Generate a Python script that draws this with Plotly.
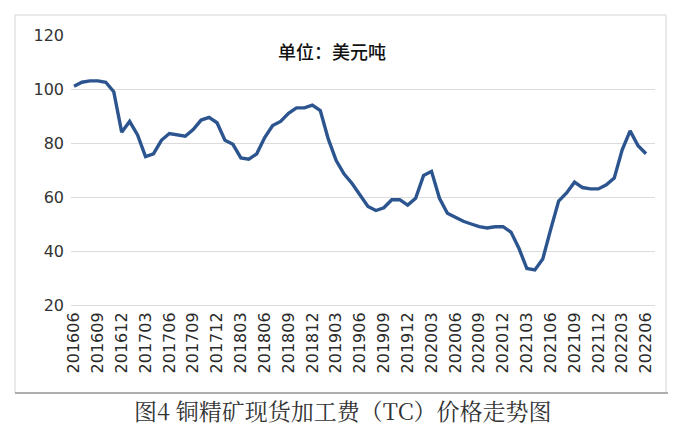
import plotly.graph_objects as go

months = []
for y in range(2016, 2023):
    for m in range(1, 13):
        ym = y * 100 + m
        if 201606 <= ym <= 202206:
            months.append(str(ym))

tc_values = [
    101, 102.5, 103, 103, 102.5, 99, 84, 88, 83, 75, 76, 81,
    83.5, 83, 82.5, 85, 88.5, 89.5, 87.5, 81, 79.5, 74.5, 74, 76,
    82, 86.5, 88, 91, 93, 93, 94, 92, 81.5, 73.5, 68.5, 65,
    61, 56.5, 55, 56, 59, 59, 57, 59.5, 68, 69.5, 59.5, 54,
    52.5, 51, 50, 49, 48.5, 49, 49, 47, 41, 33.5, 33, 37,
    48, 58.5, 61.5, 65.5, 63.5, 63, 63, 64.5, 67, 77.5, 84.5, 79,
    76,
]

tick_idx = list(range(0, len(months), 3))
tick_labels = [months[i] for i in tick_idx]
y_ticks = [20, 40, 60, 80, 100, 120]

unit_text = "单位：美元吨"
caption_text = "图4 铜精矿现货加工费（TC）价格走势图"

W, H = 692, 443
L, R, T, B = 71, 37, 35, 138
pw = W - L - R
ph = H - T - B


def px(x):
    return (x - L) / pw


def py(y):
    return (H - B - y) / ph


fig = go.Figure()
fig.add_trace(go.Scatter(
    x=list(range(len(months))),
    y=tc_values,
    mode="lines",
    line=dict(color="#2c5590", width=3.4),
    hoverinfo="skip",
    showlegend=False,
))

fig.update_layout(
    width=W, height=H,
    margin=dict(l=L, r=R, t=T, b=B),
    paper_bgcolor="white",
    plot_bgcolor="white",
    font=dict(family="DejaVu Sans", color="#333333"),
    xaxis=dict(
        range=[-0.38, 73.13],
        tickmode="array",
        tickvals=tick_idx,
        ticktext=tick_labels,
        tickangle=-90,
        tickfont=dict(family="DejaVu Sans", size=16, color="#2a2a2a"),
        showgrid=False,
        zeroline=False,
        showline=True,
        linecolor="#dcdcdc",
        linewidth=1,
        ticks="",
    ),
    yaxis=dict(
        range=[20, 120],
        tickmode="array",
        tickvals=y_ticks,
        tickfont=dict(family="DejaVu Sans", size=16, color="#333333"),
        showgrid=True,
        gridcolor="#dcdcdc",
        gridwidth=1,
        zeroline=False,
        showline=False,
        ticks="",
        ticklabelstandoff=6,
    ),
    shapes=[
        dict(type="rect", xref="paper", yref="paper",
             x0=px(15), x1=px(666), y0=py(393), y1=py(15),
             line=dict(color="#d4d4d4", width=1), layer="below"),
        dict(type="line", xref="paper", yref="paper",
             x0=px(15), x1=px(668), y0=py(393), y1=py(393),
             line=dict(color="#9a9a9a", width=1.5)),
    ],
    annotations=[
        dict(text=unit_text, xref="paper", yref="paper",
             x=px(332), y=py(51), xanchor="center", yanchor="middle",
             showarrow=False,
             font=dict(family="Noto Sans CJK SC", size=18, color="#111111",
                       weight=500)),
        dict(text=caption_text, xref="paper", yref="paper",
             x=px(343), y=py(410), xanchor="center", yanchor="middle",
             showarrow=False,
             font=dict(family="Noto Serif CJK SC, Noto Sans CJK SC", size=23,
                       color="#333333")),
    ],
)

fig.write_html("out.html", config={"displayModeBar": False},
               post_script="document.body.style.margin='0';")
